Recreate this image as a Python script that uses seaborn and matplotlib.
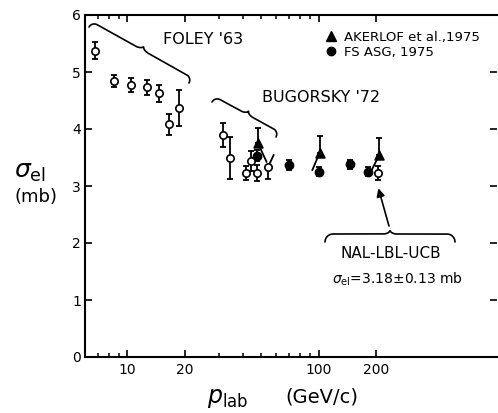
import numpy as np
import pandas as pd
import matplotlib
matplotlib.use("Agg")
import matplotlib.pyplot as plt
import seaborn as sns
from matplotlib.lines import Line2D
from matplotlib.ticker import FixedLocator, FixedFormatter, NullFormatter

# ---------------- data ----------------
foley_p = [6.8, 8.55, 10.5, 12.7, 14.7, 16.4, 18.7]
foley_s = [5.37, 4.84, 4.77, 4.73, 4.63, 4.08, 4.37]
foley_e = [0.15, 0.10, 0.12, 0.13, 0.15, 0.18, 0.32]

bug_p = [31.6, 34.5, 41.5, 44.0, 47.7, 54.3]
bug_s = [3.89, 3.49, 3.23, 3.44, 3.22, 3.33]
bug_e = [0.21, 0.37, 0.12, 0.17, 0.14, 0.20]

ak_p = [48.1, 101.0, 207.0]
ak_s = [3.75, 3.58, 3.54]
ak_e = [0.27, 0.30, 0.30]

fs_p = [47.7, 70.0, 100.0, 145.0, 180.0]
fs_s = [3.53, 3.37, 3.25, 3.38, 3.25]
fs_e = [0.10, 0.09, 0.08, 0.08, 0.08]

nal_p = [205.0]
nal_s = [3.23]
nal_e = [0.12]

x_major = [10, 20, 100, 200]
x_major_labels = ["10", "20", "100", "200"]
x_minor = [7, 8, 9, 30, 40, 50, 60, 70, 80, 90]
y_ticks = [0, 1, 2, 3, 4, 5, 6]
y_labels = ["0", "1", "2", "3", "4", "5", "6"]

# ---------------- figure ----------------
W, H = 498, 413
sns.set_style("ticks", {"text.color": "black", "axes.labelcolor": "black",
                        "xtick.color": "black", "ytick.color": "black",
                        "axes.edgecolor": "black"})
plt.rcParams["font.family"] = ["DejaVu Sans"]
plt.rcParams["mathtext.fontset"] = "dejavusans"
plt.rcParams["text.color"] = "black"

fig = plt.figure(figsize=(W / 100, H / 100), dpi=100)
ax = fig.add_axes([85 / W, 1 - 357 / H, (497 - 85) / W, (357 - 15) / H])


def fx(x):
    return x / W


def fy(y):
    return 1 - y / H


groups = (["Foley"] * len(foley_p) + ["Bugorsky"] * len(bug_p) + ["NAL"] * len(nal_p)
          + ["Akerlof"] * len(ak_p) + ["FS"] * len(fs_p))
df = pd.DataFrame({
    "p": foley_p + bug_p + nal_p + ak_p + fs_p,
    "s": foley_s + bug_s + nal_s + ak_s + fs_s,
    "group": groups,
})

ekw = dict(fmt="none", ecolor="black", elinewidth=1.3, capsize=2.3, capthick=1.3, zorder=2)
ax.errorbar(foley_p, foley_s, yerr=foley_e, **ekw)
bug_low = list(bug_e)
bug_up = list(bug_e[:-1]) + [0.0]
ax.errorbar(bug_p, bug_s, yerr=[bug_low, bug_up], **ekw)
ax.errorbar(nal_p, nal_s, yerr=nal_e, **ekw)
ax.errorbar(fs_p, fs_s, yerr=fs_e, **ekw)
ax.errorbar(ak_p, ak_s, yerr=[[0] * len(ak_p), ak_e], **ekw)

# slanted (displaced) error-bar segments
px2pt = 0.72
seg_offsets = [(8.7, -18.7), (-7.3, -17.3), (-7.6, -15.0)]
for xx, yy, (dx, dy) in zip(ak_p, ak_s, seg_offsets):
    ax.annotate("", xy=(xx, yy), xytext=(dx * px2pt, dy * px2pt), textcoords="offset points",
                arrowprops=dict(arrowstyle="-", lw=1.3, color="black", shrinkA=0, shrinkB=0))
ax.annotate("", xy=(bug_p[-1], bug_s[-1]), xytext=(5.7 * px2pt, 12.3 * px2pt),
            textcoords="offset points",
            arrowprops=dict(arrowstyle="-", lw=1.3, color="black", shrinkA=0, shrinkB=0))

palette = {"Foley": "white", "Bugorsky": "white", "NAL": "white", "Akerlof": "black", "FS": "black"}
markers = {"Foley": "o", "Bugorsky": "o", "NAL": "o", "Akerlof": "^", "FS": "o"}
sizes = {"Foley": 28, "Bugorsky": 28, "NAL": 28, "Akerlof": 40, "FS": 34}
for g, sub in df.groupby("group"):
    sns.scatterplot(data=sub, x="p", y="s", ax=ax, color=palette[g], marker=markers[g],
                    s=sizes[g], edgecolor="black", linewidth=1.2, zorder=3, legend=False)

ax.set_xscale("log")
ax.set_xlim(6.0, 855)
ax.set_ylim(0, 6)
ax.xaxis.set_major_locator(FixedLocator(x_major))
ax.xaxis.set_major_formatter(FixedFormatter(x_major_labels))
ax.xaxis.set_minor_locator(FixedLocator(x_minor))
ax.xaxis.set_minor_formatter(NullFormatter())
ax.yaxis.set_major_locator(FixedLocator(y_ticks))
ax.yaxis.set_major_formatter(FixedFormatter(y_labels))
ax.set_xlabel("")
ax.set_ylabel("")
ax.tick_params(which="major", direction="in", length=5, width=1.2, labelsize=10,
               top=True, right=True, pad=4, colors="black")
ax.tick_params(which="minor", direction="in", length=3, width=1.1, top=True, colors="black")
ax.tick_params(axis="y", pad=3)
for name, sp in ax.spines.items():
    sp.set_linewidth(1.5)
    sp.set_color("black")
    sp.set_visible(name != "right")

# legend
h1 = Line2D([], [], marker="^", color="black", ls="none", markersize=7)
h2 = Line2D([], [], marker="o", color="black", ls="none", markersize=6)
ax.legend([h1, h2], ["AKERLOF et al.,1975", "FS ASG, 1975"], loc="upper left",
          bbox_to_anchor=(fx(324), fy(31)), bbox_transform=fig.transFigure, frameon=False,
          fontsize=9.5, handlelength=1.0, handletextpad=0.55, labelspacing=0.15,
          borderpad=0, borderaxespad=0, labelcolor="black")


# braces
def brace(A, B, h1, h2, r2, lw=1.2):
    A = np.array(A, float)
    B = np.array(B, float)
    d = B - A
    L = np.hypot(*d)
    u = d / L
    nrm = np.array([u[1], -u[0]])
    s = np.linspace(0, L, 400)
    m = np.minimum(s, L - s)
    r1 = h1
    p1 = np.where(m < r1, h1 * np.sqrt(np.clip(1 - (1 - m / r1) ** 2, 0, 1)), h1)
    dm = L / 2 - m
    p2 = np.where(dm < r2, h2 * (1 - np.sqrt(np.clip(1 - (1 - dm / r2) ** 2, 0, 1))), 0)
    pts = A + np.outer(s, u) + np.outer(p1 + p2, nrm)
    fig.add_artist(Line2D(fx(pts[:, 0]), fy(pts[:, 1]), transform=fig.transFigure,
                          color="black", lw=lw))


brace((89, 27), (189, 83), 6, 4, 8)
brace((212, 102), (276, 137), 6, 4, 7)
brace((325, 242), (455, 242), 8, 4, 7)

# arrow to NAL point
ax.annotate("", xy=(nal_p[0], nal_s[0] - nal_e[0] - 0.15), xycoords="data",
            xytext=(fx(389), fy(226)), textcoords="figure fraction",
            arrowprops=dict(arrowstyle="-|>", lw=1.2, color="black", mutation_scale=12,
                            shrinkA=0, shrinkB=0))

# texts
fig.text(fx(203), fy(39), "FOLEY '63", fontsize=11.5, ha="center", va="center")
fig.text(fx(321), fy(98), "BUGORSKY '72", fontsize=11.5, ha="center", va="center")
fig.text(fx(391), fy(253), "NAL-LBL-UCB", fontsize=11, ha="center", va="center")
fig.text(fx(397), fy(279), r"$\sigma_{\rm el}$=3.18$\pm$0.13 mb", fontsize=10,
         ha="center", va="center")
fig.text(fx(14), fy(172), r"$\sigma_{\rm el}$", fontsize=18, ha="left", va="center")
fig.text(fx(14), fy(197), "(mb)", fontsize=13, ha="left", va="center")
fig.text(fx(207), fy(398), r"$p_{\rm lab}$", fontsize=17, ha="left", va="center")
fig.text(fx(285), fy(397), "(GeV/c)", fontsize=14, ha="left", va="center")

fig.savefig("out.png", dpi=100)
